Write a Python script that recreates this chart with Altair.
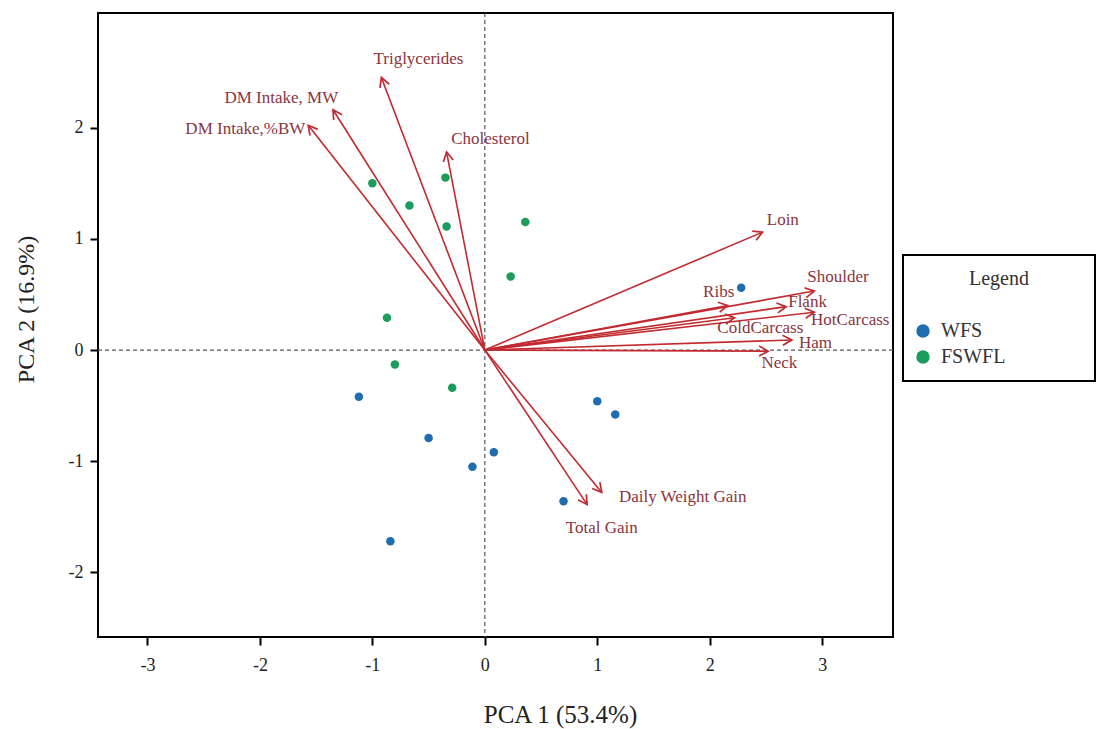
import math
import altair as alt
import pandas as pd

# ---- data ----
groups_wfs_x = [2.28, 1.00, 1.16, -1.12, -0.50, -0.11, 0.08, 0.70, -0.84]
groups_wfs_y = [0.56, -0.46, -0.58, -0.42, -0.79, -1.05, -0.92, -1.36, -1.72]
groups_fswfl_x = [-1.00, -0.67, -0.35, -0.34, 0.36, 0.23, -0.87, -0.80, -0.29]
groups_fswfl_y = [1.50, 1.30, 1.55, 1.11, 1.15, 0.66, 0.29, -0.13, -0.34]

var_names = ["Triglycerides", "DM Intake, MW", "DM Intake,%BW", "Cholesterol",
             "Loin", "Shoulder", "Ribs", "Flank", "HotCarcass", "ColdCarcass",
             "Ham", "Neck", "Daily Weight Gain", "Total Gain"]
var_x = [-0.92, -1.35, -1.57, -0.34, 2.47, 2.93, 2.16, 2.68, 2.93, 2.22, 2.73, 2.52, 1.04, 0.91]
var_y = [2.45, 2.16, 2.02, 1.78, 1.06, 0.53, 0.40, 0.39, 0.34, 0.29, 0.09, -0.01, -1.28, -1.39]
label_x = [-0.59, -1.81, -2.13, 0.05, 2.65, 3.14, 2.08, 2.87, 3.25, 2.45, 2.94, 2.62, 1.76, 1.04]
label_y = [2.62, 2.27, 1.99, 1.90, 1.17, 0.66, 0.52, 0.43, 0.27, 0.20, 0.06, -0.12, -1.32, -1.60]

x_ticks = [-3, -2, -1, 0, 1, 2, 3]
y_ticks = [-2, -1, 0, 1, 2]
group_names = ["WFS", "FSWFL"]
group_colors = ["#1f6cae", "#1a9c5b"]

# ---- layout ----
W, H = 795, 624
XD = [-3.44, 3.63]
YD = [-2.58, 3.03]
sx = W / (XD[1] - XD[0])
sy = H / (YD[1] - YD[0])

FONT = "Liberation Serif"
ARROW = "#c22a30"
LABEL = "#8a3441"
PAD = "\u00a0" * 15 + "\u200b"

pts = pd.DataFrame({
    "x": groups_wfs_x + groups_fswfl_x,
    "y": groups_wfs_y + groups_fswfl_y,
    "group": ["WFS"] * len(groups_wfs_x) + ["FSWFL"] * len(groups_fswfl_x),
})

vecs = pd.DataFrame({
    "name": var_names, "x": var_x, "y": var_y,
    "lx": label_x, "ly": label_y,
    "x0": [0.0] * len(var_names), "y0": [0.0] * len(var_names),
})
vecs["angle"] = [
    (math.degrees(math.atan2(dx * sx, dy * sy)) + 360) % 360
    for dx, dy in zip(var_x, var_y)
]

xs = alt.Scale(domain=XD, nice=False, zero=False)
ys = alt.Scale(domain=YD, nice=False, zero=False)

xaxis = alt.Axis(values=x_ticks, title="PCA 1 (53.4%)", grid=False, domain=False,
                 labelExpr="'' + datum.value",
                 tickColor="black", tickWidth=2, tickSize=8, labelFont=FONT,
                 labelFontSize=18, labelColor="#222", labelPadding=11,
                 titleFont=FONT, titleFontSize=25, titleFontWeight="normal",
                 titleColor="#222", titlePadding=28, titleX=462)
yaxis = alt.Axis(values=y_ticks, title="PCA 2 (16.9%)", grid=False, domain=False,
                 labelExpr="'' + datum.value",
                 tickColor="black", tickWidth=2, tickSize=8, labelFont=FONT,
                 labelFontSize=18, labelColor="#222", labelPadding=7,
                 titleFont=FONT, titleFontSize=24, titleFontWeight="normal",
                 titleColor="#222", titlePadding=30, titleY=296)

zero_v = alt.Chart(pd.DataFrame({"x": [0.0]})).mark_rule(
    color="#555", strokeDash=[4, 3], strokeWidth=1.2
).encode(x=alt.X("x:Q", scale=xs, axis=xaxis))
zero_h = alt.Chart(pd.DataFrame({"y": [0.0]})).mark_rule(
    color="#555", strokeDash=[4, 3], strokeWidth=1.2
).encode(y=alt.Y("y:Q", scale=ys, axis=yaxis))

shafts = alt.Chart(vecs).mark_rule(color=ARROW, strokeWidth=1.6).encode(
    x=alt.X("x0:Q", scale=xs), y=alt.Y("y0:Q", scale=ys),
    x2="x:Q", y2="y:Q",
)
heads = alt.Chart(vecs).mark_point(
    shape="M -0.55 1 L 0 0 L 0.55 1", size=330, color=ARROW,
    strokeWidth=1.7, filled=False, opacity=1,
).encode(
    x=alt.X("x:Q", scale=xs), y=alt.Y("y:Q", scale=ys),
    angle=alt.Angle("angle:Q", scale=None),
)
labels = alt.Chart(vecs).mark_text(
    font=FONT, fontSize=17, color=LABEL, align="center", baseline="middle"
).encode(
    x=alt.X("lx:Q", scale=xs), y=alt.Y("ly:Q", scale=ys), text="name:N",
)

points = alt.Chart(pts).mark_circle(size=72, opacity=1).encode(
    x=alt.X("x:Q", scale=xs), y=alt.Y("y:Q", scale=ys),
    color=alt.Color("group:N", scale=alt.Scale(domain=group_names, range=group_colors),
                    legend=alt.Legend(
                        title="Legend", orient="none", legendX=805, legendY=242,
                        strokeColor="black", padding=14,
                        titleFont=FONT, titleFontSize=20, titleFontWeight="normal",
                        titleColor="#333", titleAnchor="middle", titlePadding=32,
                        labelFont=FONT, labelFontSize=20, labelColor="#333",
                        labelExpr="datum.label + '" + PAD + "'",
                        symbolType="circle", symbolSize=180, labelOffset=8,
                        rowPadding=6, fillColor="white", symbolOffset=-4,
                        labelLimit=300,
                    )),
)

chart = alt.layer(zero_v, zero_h, shafts, heads, labels, points).properties(
    width=W, height=H,
    padding={"left": 98, "top": 13, "right": 208, "bottom": 92},
    autosize=alt.AutoSizeParams(type="none"),
    background="white",
).configure_view(stroke="black", strokeWidth=2).configure_legend(strokeWidth=2)

chart.save("out.html", embed_options={"renderer": "svg", "actions": False})
